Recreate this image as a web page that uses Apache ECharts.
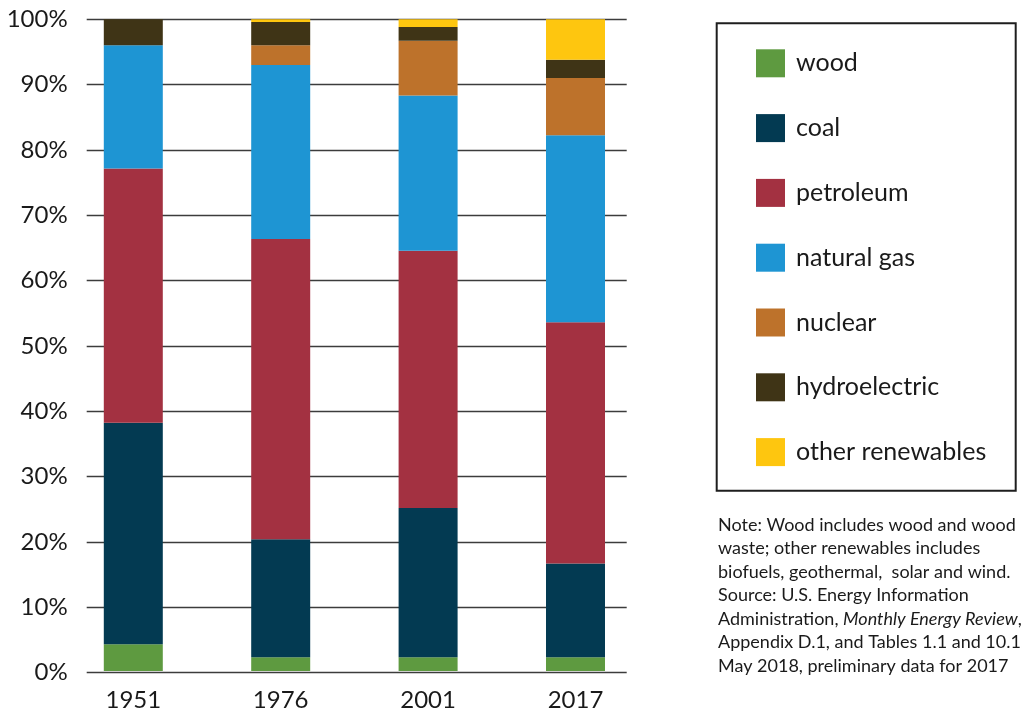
<!DOCTYPE html>
<html>
<head>
<meta charset="utf-8">
<script src="https://cdn.jsdelivr.net/npm/echarts@6/dist/echarts.min.js"></script>
<style>
  body { margin: 0; background: #fff; }
  #energymix { width: 1022px; height: 712px; }
</style>
</head>
<body>
<div id="energymix"></div>
<script>
var years = ['1951', '1976', '2001', '2017'];
var yTicks = [0, 10, 20, 30, 40, 50, 60, 70, 80, 90, 100];

var sources = ['wood', 'coal', 'petroleum', 'natural gas', 'nuclear', 'hydroelectric', 'other renewables'];
var colors = ['#5e9a40', '#033a52', '#a33141', '#1e95d3', '#bd722b', '#3f3416', '#fec60f'];

// share of total energy use, percent
var wood = [4.1, 2.1, 2.1, 2.1];
var coal = [34.0, 18.1, 22.9, 14.4];
var petroleum = [39.0, 46.1, 39.5, 37.0];
var naturalGas = [18.9, 26.7, 23.8, 28.7];
var nuclear = [0, 3.0, 8.4, 8.8];
var hydro = [4.0, 3.6, 2.1, 2.8];
var otherRenew = [0, 0.4, 1.2, 6.2];

var noteLines = [
  'Note: Wood includes wood and wood',
  'waste; other renewables includes',
  'biofuels, geothermal,  solar and wind.',
  'Source: U.S. Energy Information',
  'Administration, {i|Monthly Energy Review},',
  'Appendix D.1, and Tables 1.1 and 10.1,',
  'May 2018, preliminary data for 2017'
];

var font = 'Lato';
var seriesData = [wood, coal, petroleum, naturalGas, nuclear, hydro, otherRenew];

var series = [];
for (var i = 0; i < sources.length; i++) {
  series.push({
    name: sources[i],
    type: 'bar',
    stack: 'total',
    xAxisIndex: 1,
    yAxisIndex: 1,
    barWidth: 59,
    itemStyle: { color: colors[i] },
    data: seriesData[i]
  });
}

echarts.init(document.querySelector('#energymix')).setOption({
  animation: false,
  textStyle: { fontFamily: font },
  grid: [
    { left: 86.7, right: 395.3, top: 19.3, bottom: 39.3 },
    { left: 59.6, right: 372.8, top: 19.3, bottom: 39.3 }
  ],
  xAxis: [
    { gridIndex: 0, type: 'value', show: false, min: 0, max: 1 },
    {
      gridIndex: 1,
      type: 'category',
      data: years,
      axisLine: { show: false },
      axisTick: { show: false },
      axisLabel: { fontSize: 24, color: '#1a1a1a', margin: 17, fontFamily: font }
    }
  ],
  yAxis: [
    {
      gridIndex: 0,
      type: 'value',
      min: yTicks[0],
      max: yTicks[yTicks.length - 1],
      interval: 10,
      axisLine: { show: false },
      axisTick: { show: false },
      axisLabel: { formatter: '{value}%', fontSize: 24, color: '#1a1a1a', margin: 19, fontFamily: font },
      splitLine: { lineStyle: { color: '#3c3c3c', width: 1.3 } }
    },
    { gridIndex: 1, type: 'value', min: 0, max: 100, show: false }
  ],
  legend: {
    orient: 'vertical',
    left: 751,
    top: 44.3,
    itemWidth: 29,
    itemHeight: 28,
    itemGap: 36.8,
    icon: 'rect',
    data: sources,
    selectedMode: false,
    textStyle: { fontSize: 25, color: '#1a1a1a', fontFamily: font, padding: [0, 0, 0, 6] }
  },
  graphic: [
    {
      type: 'rect',
      shape: { x: 716.7, y: 23.3, width: 299, height: 467.4 },
      style: { fill: 'none', stroke: '#1e1e1e', lineWidth: 2 }
    },
    {
      type: 'text',
      left: 718,
      top: 513,
      style: {
        text: noteLines.join('\n'),
        fontSize: 18,
        lineHeight: 23.5,
        fontFamily: font,
        fill: '#1a1a1a',
        rich: {
          i: { fontStyle: 'italic', fontSize: 18, lineHeight: 23.5, fontFamily: font, fill: '#1a1a1a' }
        }
      }
    }
  ],
  series: series
});
</script>
</body>
</html>
